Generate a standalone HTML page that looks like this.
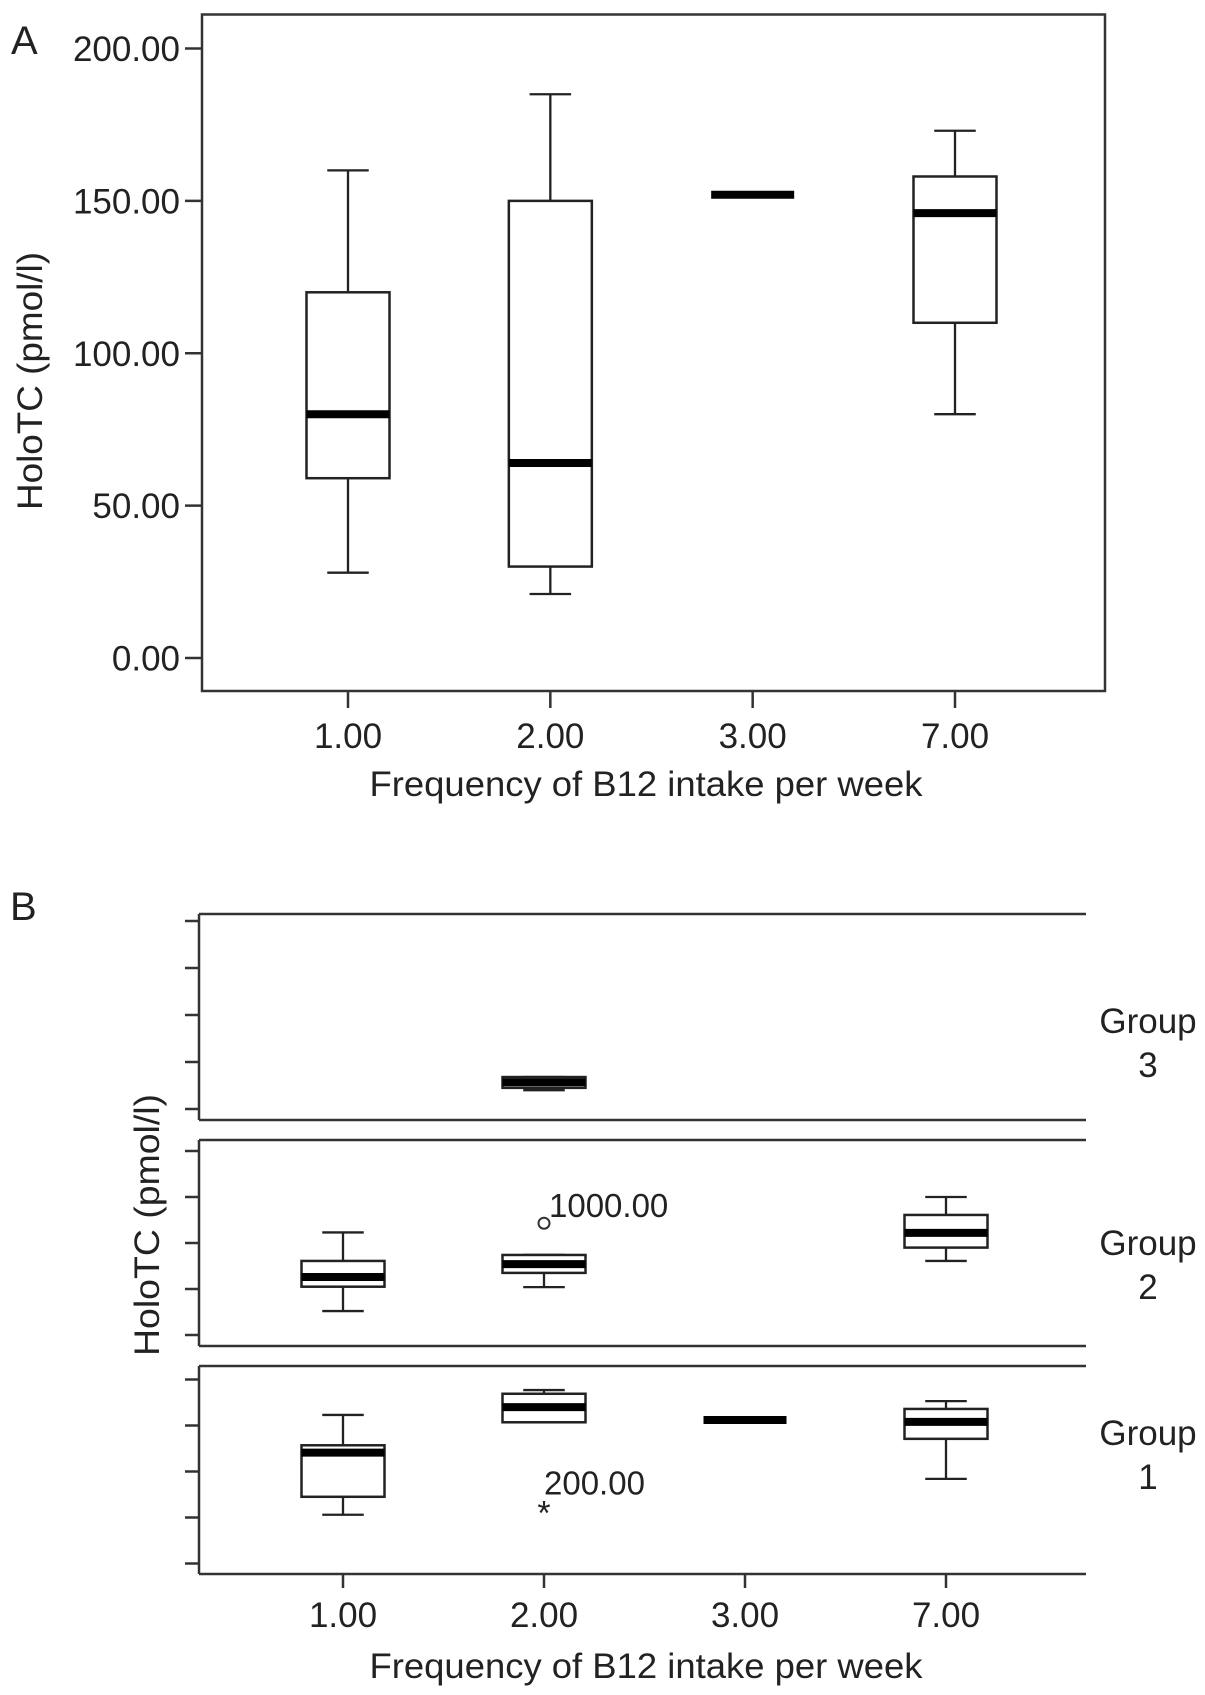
<!DOCTYPE html>
<html><head><meta charset="utf-8"><style>
html,body{margin:0;padding:0;background:#fff;}
svg{display:block;font-family:"Liberation Sans",sans-serif;}
text{fill:#222;}
</style></head><body>
<svg id="fig" width="1205" height="1695" viewBox="0 0 1205 1695">
<g id="pa"></g>
<g id="pb"></g>
</svg>
<script>
// Panel A data
const catsA = ["1.00","2.00","3.00","7.00"];
const loA  = [28, 21, null, 80];
const q1A  = [59, 30, null, 110];
const medA = [80, 64, 152, 146];
const q3A  = [120, 150, null, 158];
const hiA  = [160, 185, null, 173];
const yTicksA = [0, 50, 100, 150, 200];
const yTickLabelsA = ["0.00","50.00","100.00","150.00","200.00"];

// Panel B data (values in tick units, ticks 0..4)
const catsB = ["1.00","2.00","3.00","7.00"];
const groupsB = ["3","2","1"];
const loB  = [[null,0.40,null,null],[0.52,1.04,null,1.61],[1.06,3.07,null,1.84]];
const q1B  = [[null,0.45,null,null],[1.05,1.35,null,1.90],[1.45,3.07,null,2.71]];
const medB = [[null,0.57,null,null],[1.26,1.54,null,2.22],[2.41,3.40,3.12,3.08]];
const q3B  = [[null,0.68,null,null],[1.61,1.74,null,2.61],[2.57,3.69,null,3.36]];
const hiB  = [[null,0.68,null,null],[2.23,1.74,null,3.00],[3.23,3.77,null,3.53]];
const outlierB = [null, {cat:1, v:2.43, label:"1000.00", sym:"o"}, {cat:1, v:1.17, label:"200.00", sym:"*"}];
const yTicksB = [0,1,2,3,4];

const NS="http://www.w3.org/2000/svg";
function mk(tag, attrs, parent){const e=document.createElementNS(NS,tag);for(const k in attrs)e.setAttribute(k,attrs[k]);parent.appendChild(e);return e;}

function drawBox(g, cx, hw, sy, lo, q1, med, q3, hi){
  if(lo!==null){
    const wl=mk('line',{x1:cx,x2:cx,y1:sy(lo),y2:sy(q1),stroke:'#222','stroke-width':2.3},g);
    
    
    const cl=mk('line',{x1:cx-hw/2,x2:cx+hw/2,y1:sy(lo),y2:sy(lo),stroke:'#222','stroke-width':2.3},g);
    
    
    const wh=mk('line',{x1:cx,x2:cx,y1:sy(hi),y2:sy(q3),stroke:'#222','stroke-width':2.3},g);
    
    
    const ch=mk('line',{x1:cx-hw/2,x2:cx+hw/2,y1:sy(hi),y2:sy(hi),stroke:'#222','stroke-width':2.3},g);
    
    
    const r=mk('rect',{x:cx-hw,y:sy(q3),width:2*hw,height:Math.max(0,sy(q1)-sy(q3)),fill:'#fff',stroke:'#222','stroke-width':2.5},g);
    
    
  }
  const m=mk('line',{x1:cx-hw,x2:cx+hw,y1:sy(med),y2:sy(med),stroke:'#000','stroke-width':8},g);
  
  
}

// ---- Panel A
(function(){
  const g=document.getElementById('pa');
  const L=202,R=1105,T=14.5,B=691;
  const y0=658, y200=48.5;
  const sy=v=>y0+(y200-y0)*v/200;
  const xs=[348,550.5,752.5,955];
  const sx=i=>xs[0]+(xs[3]-xs[0])*i/3;
  const f=mk('rect',{x:L,y:T,width:R-L,height:B-T,fill:'none',stroke:'#333','stroke-width':2.5},g);
  
  
  yTicksA.forEach((v,i)=>{
    const t=mk('line',{x1:L-17,x2:L,y1:sy(v),y2:sy(v),stroke:'#333','stroke-width':2.5},g);
    
    
    const tx=mk('text',{x:L-22,y:sy(v)+12.5,'text-anchor':'end','font-size':35},g);
    tx.textContent=yTickLabelsA[i];
    
    
  });
  catsA.forEach((c,i)=>{
    const t=mk('line',{x1:sx(i),x2:sx(i),y1:B,y2:B+17,stroke:'#333','stroke-width':2.5},g);
    
    
    const tx=mk('text',{x:sx(i),y:748,'text-anchor':'middle','font-size':35},g);
    tx.textContent=c;
    
    
    const bg=mk('g',{},g);
    
    
    drawBox(bg,sx(i),41.5,sy,loA[i],q1A[i],medA[i],q3A[i],hiA[i]);
  });
  const xt=mk('text',{x:646,y:796,'text-anchor':'middle','font-size':35,textLength:553,lengthAdjust:'spacingAndGlyphs'},g);
  xt.textContent='Frequency of B12 intake per week';
  
  
  const yt=mk('text',{x:0,y:0,'text-anchor':'middle','font-size':35,textLength:258,lengthAdjust:'spacingAndGlyphs',transform:'translate(42,381) rotate(-90)'},g);
  yt.textContent='HoloTC (pmol/l)';
  
  
  const lab=mk('text',{x:11,y:54,'font-size':40},g);
  lab.textContent='A';
  
  
})();

// ---- Panel B
(function(){
  const g=document.getElementById('pb');
  const L=199,R=1086;
  const panels=[{t:914,b:1120,z:1109,s:47},{t:1140,b:1346,z:1335,s:46},{t:1366,b:1574,z:1563.5,s:46}];
  const xs=[343,545,743.5,946];
  const sx=i=>xs[0]+(xs[3]-xs[0])*i/3;
  const gl=[[1033,1077],[1255,1299],[1445,1489]];
  panels.forEach((p,pi)=>{
    const pg=mk('g',{},g);
    
    
    const sy=v=>p.z-p.s*v;
    const top=mk('line',{x1:L,x2:R,y1:p.t,y2:p.t,stroke:'#333','stroke-width':2.5},pg);
    
    
    const bot=mk('line',{x1:L,x2:R,y1:p.b,y2:p.b,stroke:'#333','stroke-width':2.5},pg);
    
    
    const lf=mk('line',{x1:L,x2:L,y1:p.t,y2:p.b,stroke:'#333','stroke-width':2.5},pg);
    
    
    yTicksB.forEach(v=>{
      const t=mk('line',{x1:L-14,x2:L,y1:sy(v),y2:sy(v),stroke:'#333','stroke-width':2.5},pg);
      
      
    });
    catsB.forEach((c,i)=>{
      if(medB[pi][i]===null) return;
      const bg=mk('g',{},pg);
      
      
      drawBox(bg,sx(i),41.5,sy,loB[pi][i],q1B[pi][i],medB[pi][i],q3B[pi][i],hiB[pi][i]);
    });
    const o=outlierB[pi];
    if(o){
      const ox=sx(o.cat), oy=sy(o.v);
      if(o.sym==='o'){
        const c=mk('circle',{cx:ox,cy:oy,r:5.5,fill:'none',stroke:'#333','stroke-width':2},pg);
        
        
        const lt=mk('text',{x:ox+5,y:oy-6,'font-size':33},pg);
        lt.textContent=o.label;
        
        
      } else {
        const c=mk('text',{x:ox,y:oy+15,'text-anchor':'middle','font-size':34},pg);
        c.textContent='*';
        
        
        const lt=mk('text',{x:ox,y:oy-15,'font-size':33},pg);
        lt.textContent=o.label;
        
        
      }
    }
    const t1=mk('text',{x:1148,y:gl[pi][0],'text-anchor':'middle','font-size':35},pg);
    t1.textContent='Group';
    
    
    const t2=mk('text',{x:1148,y:gl[pi][1],'text-anchor':'middle','font-size':35},pg);
    t2.textContent=groupsB[pi];
    
    
  });
  catsB.forEach((c,i)=>{
    const t=mk('line',{x1:sx(i),x2:sx(i),y1:1574,y2:1588,stroke:'#333','stroke-width':2.5},g);
    
    
    const tx=mk('text',{x:sx(i),y:1627,'text-anchor':'middle','font-size':35},g);
    tx.textContent=c;
    
    
  });
  const xt=mk('text',{x:646,y:1678,'text-anchor':'middle','font-size':35,textLength:553,lengthAdjust:'spacingAndGlyphs'},g);
  xt.textContent='Frequency of B12 intake per week';
  
  
  const yt=mk('text',{x:0,y:0,'text-anchor':'middle','font-size':35,textLength:262,lengthAdjust:'spacingAndGlyphs',transform:'translate(159,1225) rotate(-90)'},g);
  yt.textContent='HoloTC (pmol/l)';
  
  
  const lab=mk('text',{x:10,y:920,'font-size':40},g);
  lab.textContent='B';
  
  
})();
</script>
</body></html>
